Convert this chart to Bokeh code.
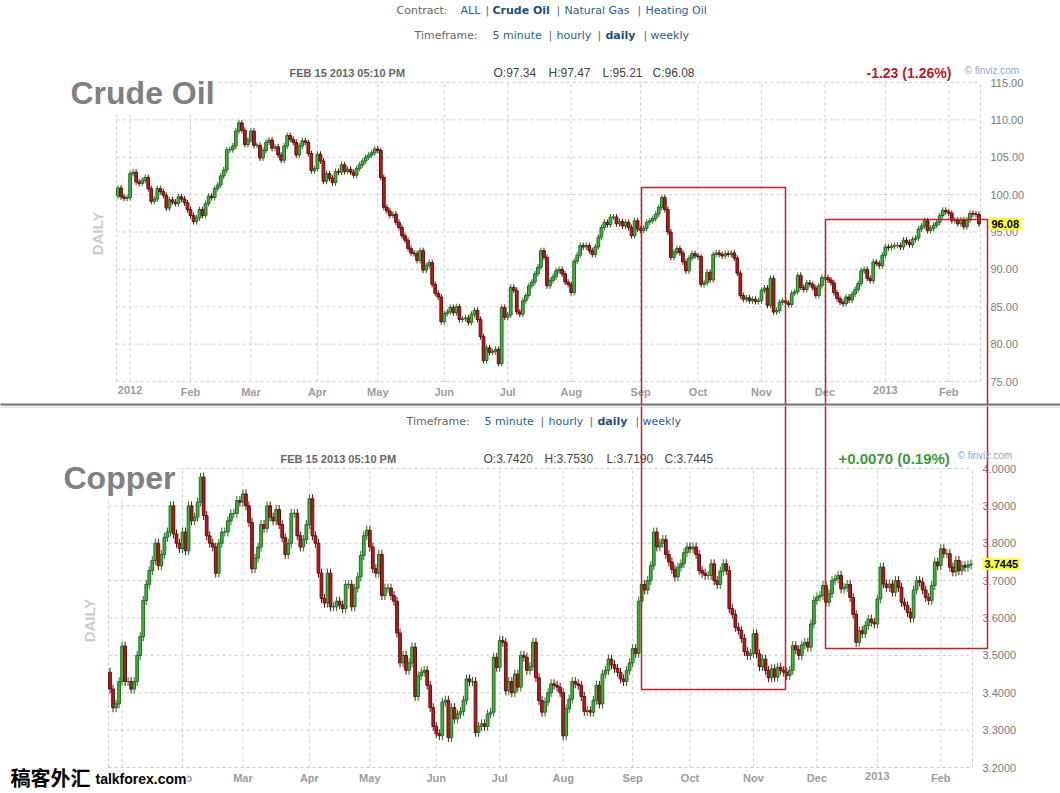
import math
import pandas as pd
from bokeh.plotting import figure
from bokeh.layouts import column
from bokeh.models import Range1d, Label, ColumnDataSource
from bokeh.core.properties import value
from bokeh.embed import file_html
from bokeh.resources import INLINE

# ---------------- data ----------------
HOLIDAYS = ["2012-01-02", "2012-01-16", "2012-02-20", "2012-04-06", "2012-05-28", "2012-07-04",
            "2012-09-03", "2012-10-29", "2012-10-30", "2012-11-22", "2012-12-25", "2013-01-01", "2013-01-21"]
DATES = pd.bdate_range("2011-12-27", "2013-02-15").difference(pd.to_datetime(HOLIDAYS))

MONTH_LABELS = ["2012", "Feb", "Mar", "Apr", "May", "Jun", "Jul", "Aug", "Sep", "Oct", "Nov", "Dec", "2013", "Feb"]

OIL_FIRST_OPEN = 99.8
OIL_CLOSE = [
    100.9, 99.7, 99.5, 99.6,
    102.8, 103.0, 101.7, 101.5, 101.9, 102.3, 100.8, 99.1, 99.4, 100.8, 100.4, 99.9, 98.2, 99.3, 99.0, 98.8, 99.7, 99.4, 98.9, 98.0,
    97.2, 96.4, 96.9, 98.0, 97.2, 98.8, 99.8, 99.6, 100.8, 101.3, 102.5, 103.3, 106.0, 106.0, 106.5, 108.5, 109.6, 108.6, 106.7, 107.3,
    108.5, 106.6, 106.6, 104.9, 105.9, 107.0, 107.3, 106.2, 106.4, 105.3, 104.6, 106.5, 107.9, 107.4, 107.0, 105.3, 106.5, 107.2, 107.0, 105.5, 103.2, 103.5,
    105.4, 104.5, 101.8, 102.8, 102.2, 101.6, 103.1, 103.0, 104.0, 103.1, 103.4, 103.0, 102.6, 103.5, 104.0, 104.5, 105.0, 105.3, 105.6, 106.1,
    105.9, 102.3, 98.3, 97.8, 97.2, 97.4, 96.3, 95.6, 94.5, 93.9, 92.8, 92.2, 92.1, 91.2, 92.5, 89.9, 90.5, 90.9, 88.0, 86.8, 86.3, 83.0,
    84.1, 84.3, 84.9, 84.2, 85.0, 83.3, 83.4, 83.5, 82.9, 84.0, 84.5, 83.3, 81.0, 77.8, 79.5, 78.9, 79.0, 79.3, 77.4, 84.9, 83.6,
    83.9, 87.6, 87.2, 84.3, 84.0, 85.8, 86.5, 87.8, 88.3, 89.4, 90.3, 92.5, 91.6, 87.8, 88.5, 89.0, 89.8, 90.0, 89.4, 88.3, 88.0,
    86.9, 91.1, 91.9, 93.2, 93.0, 93.2, 92.5, 92.0, 93.0, 94.3, 95.6, 96.3, 96.0, 97.0, 97.0, 96.1, 96.4, 95.8, 96.3, 95.6, 94.5, 96.5, 95.4,
    95.2, 95.5, 96.3, 96.5, 96.8, 97.4, 98.3, 99.6, 98.0, 95.0, 91.6, 92.3, 92.8, 92.2, 91.0, 89.8, 91.5, 92.1, 91.8,
    91.7, 88.0, 88.2, 89.6, 88.6, 92.0, 92.2, 92.0, 91.8, 92.1, 92.0, 92.2, 91.5, 89.5, 86.5, 86.0, 86.2, 85.8, 86.0, 85.7, 85.8,
    87.2, 87.5, 85.2, 88.8, 84.3, 84.5, 85.6, 85.8, 85.5, 85.3, 86.8, 87.0, 89.2, 87.6, 87.3, 88.2, 88.0, 87.5, 86.5, 87.8, 88.9,
    88.9, 88.6, 88.2, 86.9, 86.1, 85.6, 85.4, 86.3, 85.9, 86.7, 87.3, 88.1, 89.8, 90.0, 88.8, 88.5, 91.0, 90.8, 90.5, 91.9,
    93.0, 92.9, 93.1, 93.2, 93.2, 93.0, 93.9, 93.6, 93.3, 94.0, 94.2, 95.4, 95.8, 96.5, 95.2, 95.5, 95.9, 96.3, 97.2, 97.9, 97.7,
    97.5, 96.5, 96.6, 96.1, 96.6, 95.7, 96.6, 97.5, 97.4, 97.34, 96.08,
]

CU_FIRST_OPEN = 3.455
CU_CLOSE = [
    3.41, 3.36, 3.37, 3.43,
    3.525, 3.43, 3.43, 3.41, 3.43, 3.50, 3.55, 3.647, 3.69, 3.727, 3.754, 3.80, 3.74, 3.77, 3.816, 3.83, 3.90, 3.825, 3.80, 3.786,
    3.83, 3.78, 3.90, 3.86, 3.87, 3.91, 3.977, 3.874, 3.82, 3.80, 3.79, 3.72, 3.80, 3.83, 3.83, 3.86, 3.879, 3.88, 3.914, 3.91,
    3.932, 3.90, 3.856, 3.732, 3.76, 3.79, 3.85, 3.84, 3.90, 3.87, 3.86, 3.89, 3.85, 3.815, 3.77, 3.80, 3.88, 3.88, 3.82, 3.79, 3.81, 3.85,
    3.919, 3.82, 3.80, 3.72, 3.652, 3.64, 3.72, 3.63, 3.63, 3.645, 3.635, 3.625, 3.69, 3.69, 3.63, 3.68, 3.71, 3.767, 3.82, 3.835,
    3.79, 3.732, 3.72, 3.77, 3.66, 3.68, 3.68, 3.66, 3.645, 3.56, 3.48, 3.50, 3.46, 3.48, 3.522, 3.39, 3.445, 3.455, 3.46, 3.42, 3.36, 3.31,
    3.29, 3.285, 3.375, 3.38, 3.28, 3.36, 3.33, 3.343, 3.35, 3.38, 3.437, 3.43, 3.43, 3.294, 3.31, 3.317, 3.31, 3.343, 3.348, 3.495, 3.468,
    3.54, 3.535, 3.405, 3.43, 3.40, 3.45, 3.415, 3.50, 3.495, 3.46, 3.47, 3.535, 3.44, 3.379, 3.348, 3.375, 3.40, 3.424, 3.42, 3.415, 3.40,
    3.285, 3.357, 3.383, 3.43, 3.424, 3.42, 3.39, 3.35, 3.352, 3.348, 3.38, 3.42, 3.37, 3.45, 3.46, 3.49, 3.475, 3.465, 3.455, 3.437, 3.43, 3.46, 3.48,
    3.518, 3.505, 3.645, 3.69, 3.675, 3.70, 3.74, 3.83, 3.79, 3.80, 3.81, 3.77, 3.75, 3.73, 3.71, 3.736, 3.745, 3.775, 3.79,
    3.785, 3.79, 3.77, 3.727, 3.72, 3.714, 3.714, 3.745, 3.70, 3.69, 3.725, 3.745, 3.727, 3.625, 3.61, 3.575, 3.567, 3.545, 3.51, 3.50, 3.505,
    3.558, 3.504, 3.47, 3.49, 3.46, 3.44, 3.464, 3.442, 3.468, 3.46, 3.455, 3.446, 3.46, 3.526, 3.515, 3.50, 3.528, 3.535, 3.522, 3.584, 3.647,
    3.656, 3.66, 3.687, 3.642, 3.665, 3.70, 3.705, 3.714, 3.678, 3.682, 3.69, 3.655, 3.61, 3.535, 3.566, 3.558, 3.58, 3.597, 3.589, 3.584,
    3.651, 3.736, 3.691, 3.682, 3.691, 3.669, 3.70, 3.682, 3.642, 3.633, 3.615, 3.60, 3.675, 3.70, 3.696, 3.675, 3.655, 3.647, 3.687, 3.75, 3.74,
    3.785, 3.772, 3.772, 3.736, 3.723, 3.754, 3.727, 3.74, 3.736, 3.742, 3.7445,
]

OIL_TICKS = [75, 80, 85, 90, 95, 100, 105, 110, 115]
CU_TICKS = [3.2, 3.3, 3.4, 3.5, 3.6, 3.7, 3.8, 3.9, 4.0]

# annotation rectangles drawn across both charts: (left day, right day, top on oil, bottom on copper)
RECT_LEFT = [173.285, 234.195]
RECT_RIGHT = [220.951, 287.823]
RECT_TOP_OIL = [100.953, 96.672]
RECT_BOTTOM_CU = [3.4087, 3.5184]

# ---------------- styles / layout ----------------
N = len(DATES)
W = 1060
UP_FILL, UP_LINE = "#41b341", "#216b21"
DN_FILL, DN_LINE = "#b51d1d", "#650b0b"
GRID = "#cdcdcd"
RED_BOX = "#cc1c26"
ARIAL = "Liberation Sans"
VERD = "DejaVu Sans"
LINK = "#2a6096"
GREY = "#666666"

periods = DATES.to_period("M")
MONTH_IDX = [i for i in range(1, N) if periods[i] != periods[i - 1]]


def chart(canvas_top, height, L, R, T, B, ymin, ymax, ticks, fmt, closes, first_open, wick):
    """L, R, T, B: edges of the plotting box in page pixels; the frame covers the whole canvas."""
    sx = (R - L) / N
    sy = (B - T) / (ymax - ymin)
    p = figure(width=W, height=height,
               x_range=Range1d(-0.5 - L / sx, -0.5 + (W - L) / sx),
               y_range=Range1d(ymax - (canvas_top + height - T) / sy, ymax + (T - canvas_top) / sy),
               x_axis_type=None, y_axis_type=None, output_backend="svg", toolbar_location=None,
               title=None, min_border=0)
    p.outline_line_color = None
    p.background_fill_color = "white"
    p.border_fill_color = "white"

    def X(px):
        return -0.5 + (px - L) / sx

    def Y(py):
        return ymax - (py - T) / sy

    def PX(xd):
        return L + (xd + 0.5) * sx

    xlo, xhi = -0.5, N - 0.5
    # grid (dashed), including the box edges
    p.segment(x0=[xlo] * len(ticks), y0=ticks, x1=[xhi] * len(ticks), y1=ticks,
              line_color=GRID, line_dash="3 3", line_width=1)
    vx = [xlo] + MONTH_IDX + [xhi]
    p.segment(x0=vx, y0=[ymin] * len(vx), x1=vx, y1=[ymax] * len(vx),
              line_color=GRID, line_dash="3 3", line_width=1)

    # axis tick labels
    p.text(x=[X(R + 10)] * len(ticks), y=ticks, text=[fmt % t for t in ticks],
           text_font=value(ARIAL), text_font_size="11px", text_color="#7a7a7a",
           text_baseline="middle", text_align="left")
    p.text(x=MONTH_IDX, y=[Y(B + 4)] * len(MONTH_IDX), text=MONTH_LABELS,
           text_font=value(ARIAL), text_font_size="11px", text_font_style="bold", text_color="#9c9c9c",
           text_baseline="top", text_align="center")

    # candles
    opens = [first_open] + closes[:-1]
    up = [c >= o for o, c in zip(opens, closes)]
    btop = [max(o, c) for o, c in zip(opens, closes)]
    bbot = [min(o, c) for o, c in zip(opens, closes)]
    src = ColumnDataSource(dict(
        x=list(range(N)), btop=btop, bbot=bbot,
        high=[t + wick for t in btop], low=[b - wick for b in bbot],
        fill=[UP_FILL if u else DN_FILL for u in up],
        line=[UP_LINE if u else DN_LINE for u in up],
    ))
    p.segment(x0="x", y0="low", x1="x", y1="high", line_color="line", line_width=1, source=src)
    p.vbar(x="x", width=0.9, top="btop", bottom="bbot", fill_color="fill", line_color="line",
           line_width=1, source=src)

    def text(px, py, s, size="11px", color=GREY, font=ARIAL, style="normal", align="left",
             baseline="middle", angle=0.0, bg=None, pad=0):
        lab = Label(x=X(px), y=Y(py), text=s, text_font=font, text_font_size=size, text_color=color,
                    text_font_style=style, text_align=align, text_baseline=baseline, angle=angle)
        if bg is not None:
            lab.background_fill_color = bg
            lab.padding = pad
        p.add_layout(lab)
        return lab

    return p, X, Y, PX, text


TIMEFRAME = [(414, "Timeframe:", GREY, "normal"), (492, "5 minute", LINK, "normal"), (548, "|", GREY, "normal"),
             (556, "hourly", LINK, "normal"), (597, "|", GREY, "normal"), (605, "daily", "#1d4f80", "bold"),
             (643, "|", GREY, "normal"), (650, "weekly", LINK, "normal")]

# ---------------- crude oil ----------------
OIL_H = 406
po, Xo, Yo, PXo, to = chart(0, OIL_H, 116, 980, 82, 381, 75, 115, OIL_TICKS, "%.2f", OIL_CLOSE, OIL_FIRST_OPEN, 0.4)

for x, s, c, st in [(396, "Contract:", GREY, "normal"), (460, "ALL", LINK, "normal"), (485, "|", GREY, "normal"),
                    (492, "Crude Oil", "#1d4f80", "bold"), (556, "|", GREY, "normal"),
                    (564, "Natural Gas", LINK, "normal"), (637, "|", GREY, "normal"),
                    (645, "Heating Oil", LINK, "normal")]:
    to(x, 10, s, size="11px", color=c, font=VERD, style=st)
for x, s, c, st in TIMEFRAME:
    to(x, 35, s, size="11px", color=c, font=VERD, style=st)

to(69, 92, "Crude Oil", size="32px", color="#808080", style="bold", baseline="alphabetic", bg="white", pad=1)
to(289, 72, "FEB 15 2013 05:10 PM", size="11px", color="#666666", style="bold")
for x, s in [(493, "O:97.34"), (548, "H:97.47"), (602, "L:95.21"), (652, "C:96.08")]:
    to(x, 72, s, size="12px", color="#444444")
to(866, 72, "-1.23 (1.26%)", size="14px", color="#b3202a", style="bold")
to(964, 70, "\u00a9 finviz.com", size="10px", color="#8ea9c4")
to(97, 233, "DAILY", size="15px", color="#cccccc", style="bold", align="center", angle=math.pi / 2)

last_o = Label(x=Xo(989), y=OIL_CLOSE[-1], text="%.2f" % OIL_CLOSE[-1], text_font=ARIAL, text_font_size="11px",
               text_color="#000000", text_font_style="bold", text_baseline="middle", text_align="left",
               background_fill_color="#ffff3a", padding=2)
po.add_layout(last_o)

po.quad(left=RECT_LEFT, right=RECT_RIGHT, top=RECT_TOP_OIL, bottom=[Yo(2000)] * 2, fill_color=None,
        line_color=RED_BOX, line_width=1.5)
po.quad(left=[Xo(-5)], right=[Xo(1070)], top=[Yo(403)], bottom=[Yo(405)], fill_color="#707070",
        line_color=None)
po.quad(left=[Xo(-5)], right=[Xo(1070)], top=[Yo(405)], bottom=[Yo(407)], fill_color="#b0b0b0",
        line_color=None)

# ---------------- copper ----------------
CU_H = 386
pc, Xc, Yc, PXc, tc = chart(OIL_H, CU_H, 108, 972, 468, 767, 3.2, 4.0, CU_TICKS, "%.4f", CU_CLOSE, CU_FIRST_OPEN, 0.012)

pc.quad(left=[Xc(-5)], right=[Xc(1070)], top=[Yc(405)], bottom=[Yc(407)], fill_color="#d4d4d4", line_color=None)
for x, s, c, st in TIMEFRAME:
    tc(x - 8, 421, s, size="11px", color=c, font=VERD, style=st)
tc(62, 477, "Copper", size="32px", color="#808080", style="bold", baseline="alphabetic", bg="white", pad=1)
tc(280, 458, "FEB 15 2013 05:10 PM", size="11px", color="#666666", style="bold")
for x, s in [(483, "O:3.7420"), (544, "H:3.7530"), (606, "L:3.7190"), (664, "C:3.7445")]:
    tc(x, 458, s, size="12px", color="#444444")
tc(838, 458, "+0.0070 (0.19%)", size="15px", color="#3a9a3a", style="bold")
tc(957, 455, "\u00a9 finviz.com", size="10px", color="#8ea9c4")
tc(89, 620, "DAILY", size="15px", color="#cccccc", style="bold", align="center", angle=math.pi / 2)

last_c = Label(x=Xc(982), y=CU_CLOSE[-1], text="%.4f" % CU_CLOSE[-1], text_font=ARIAL, text_font_size="11px",
               text_color="#000000", text_font_style="bold", text_baseline="middle", text_align="left",
               background_fill_color="#ffff3a", padding=2)
pc.add_layout(last_c)

pc.quad(left=[Xc(PXo(l)) for l in RECT_LEFT], right=[Xc(PXo(r)) for r in RECT_RIGHT],
        top=[Yc(-2000)] * 2, bottom=RECT_BOTTOM_CU, fill_color=None, line_color=RED_BOX, line_width=1.5)

tc(10, 777, "稿客外汇", size="20px", color="#000000", font="Noto Sans CJK SC", style="bold")
tc(94, 778, "talkforex.com", size="14px", color="#000000", style="bold", bg="white", pad=1)

layout = column(po, pc, spacing=0)
open("out.html", "w").write(file_html(layout, INLINE))
